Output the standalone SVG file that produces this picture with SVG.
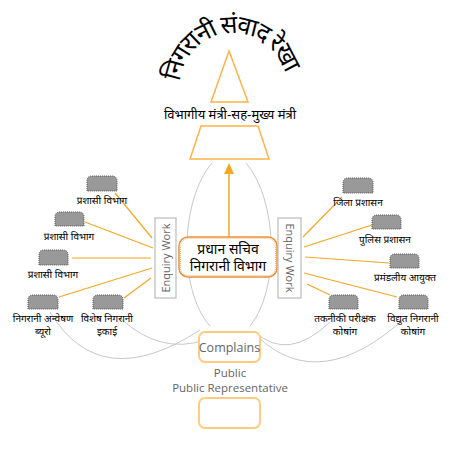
<svg xmlns="http://www.w3.org/2000/svg" xmlns:xlink="http://www.w3.org/1999/xlink" width="450" height="450" viewBox="0 0 450 450">
<style>
.dev{font-family:"Noto Sans Devanagari","Noto Sans","Lohit Devanagari","FreeSans",sans-serif;fill:#000}
.lbl{font-size:10px;text-anchor:middle}
.eng{font-family:"Open Sans","Noto Sans","DejaVu Sans",sans-serif;fill:#666}
.node{fill:#999;stroke:#555;stroke-width:1;stroke-dasharray:1 1}
.ol{stroke:#F5A623;stroke-width:1.2;fill:none}
.gc{stroke:#c8c8c8;stroke-width:1;fill:none}
.ebox{fill:#fff;stroke:#bbb;stroke-width:1.2}
.pbox{fill:#fff;stroke:#FFCC80;stroke-width:2}
</style>
<defs>
<path id="arc" d="M 180,86 A 53,53 0 0,1 286,86"/>
</defs>
<rect width="450" height="450" fill="#fff"/>

<g id="title">
<text class="dev" font-size="25"><textPath xlink:href="#arc" href="#arc" startOffset="2" textLength="150" lengthAdjust="spacing">निगरानी संवाद  रेखा</textPath></text>
</g>

<g id="connectors">
<path class="gc" d="M 212,163 C 180,200 178,290 210,326"/>
<path class="gc" d="M 246,163 C 278,200 280,290 250,326"/>
<path class="gc" d="M 50,312 Q 100,395 200,330"/>
<path class="gc" d="M 120,318 Q 160,355 205,340"/>
<path class="gc" d="M 330,322 Q 288,362 255,332"/>
<path class="gc" d="M 405,318 Q 320,395 258,337"/>
<line x1="229" y1="237" x2="229" y2="172" stroke="#F5A623" stroke-width="1.5"/>
<polygon points="229,163 224,174 234,174" fill="#F5A623"/>
<line class="ol" x1="115" y1="193" x2="152" y2="238"/>
<line class="ol" x1="85" y1="222" x2="153" y2="248"/>
<line class="ol" x1="72" y1="258" x2="151" y2="258"/>
<line class="ol" x1="59" y1="297" x2="152" y2="268"/>
<line class="ol" x1="124" y1="298" x2="151" y2="278"/>
<line class="ol" x1="303" y1="237" x2="342" y2="197"/>
<line class="ol" x1="304" y1="247" x2="372" y2="225"/>
<line class="ol" x1="305" y1="257" x2="389" y2="263"/>
<line class="ol" x1="304" y1="273" x2="397" y2="297"/>
<line class="ol" x1="307" y1="284" x2="330" y2="295"/>
</g>

<g id="triangle">
<polygon points="229,51 211,102 248,102" fill="#fff" stroke="#FFB347" stroke-width="1.5"/>
<text class="dev" x="230" y="119" font-size="13" text-anchor="middle">विभागीय मंत्री-सह-मुख्य मंत्री</text>
</g>

<g id="trapezoid">
<polygon points="201,126 258,126 269,159 190,159" fill="#fff" stroke="#FFB347" stroke-width="1.5"/>
</g>

<g id="center">
<rect x="179" y="237" width="98" height="40" rx="9" fill="#fff" stroke="#E8913A" stroke-width="1.5"/>
<rect x="180.5" y="238.5" width="95" height="37" rx="8" fill="none" stroke="#F5B97A" stroke-width="1" stroke-dasharray="1 1"/>
<text class="dev" x="228" y="254" font-size="14" text-anchor="middle">प्रधान सचिव</text>
<text class="dev" x="228" y="271" font-size="14" text-anchor="middle">निगरानी विभाग</text>
</g>

<g id="enquiry-left">
<rect class="ebox" x="155" y="218" width="21" height="80"/>
<text class="eng" font-size="11" text-anchor="middle" fill="#888" transform="translate(169.5,258) rotate(-90)">Enquiry Work</text>
</g>
<g id="enquiry-right">
<rect class="ebox" x="278" y="218" width="23" height="80"/>
<text class="eng" font-size="11" text-anchor="middle" fill="#888" transform="translate(285.5,258) rotate(90)">Enquiry Work</text>
</g>

<g id="n-l1"><path class="node" d="M87,191 V181 Q87,176 92,176 H112 Q117,176 117,181 V191 Z"/><text class="dev lbl" x="102" y="204">प्रशासी विभाग</text></g>
<g id="n-l2"><path class="node" d="M55,226 V217 Q55,212 60,212 H79 Q84,212 84,217 V226 Z"/><text class="dev lbl" x="69" y="240">प्रशासी विभाग</text></g>
<g id="n-l3"><path class="node" d="M39,265 V255 Q39,250 44,250 H63 Q68,250 68,255 V265 Z"/><text class="dev lbl" x="53" y="278">प्रशासी विभाग</text></g>
<g id="n-l4"><path class="node" d="M28,309 V300 Q28,295 33,295 H53 Q58,295 58,300 V309 Z"/><text class="dev lbl" x="43" y="322">निगरानी अन्वेषण</text><text class="dev lbl" x="43" y="335">ब्यूरो</text></g>
<g id="n-l5"><path class="node" d="M93,309 V300 Q93,295 98,295 H118 Q123,295 123,300 V309 Z"/><text class="dev lbl" x="107" y="322">विशेष निगरानी</text><text class="dev lbl" x="107" y="335">इकाई</text></g>

<g id="n-r1"><path class="node" d="M343,193 V183 Q343,178 348,178 H368 Q373,178 373,183 V193 Z"/><text class="dev lbl" x="358" y="206">जिला प्रशासन</text></g>
<g id="n-r2"><path class="node" d="M372,229 V220 Q372,215 377,215 H396 Q401,215 401,220 V229 Z"/><text class="dev lbl" x="385" y="243">पुलिस प्रशासन</text></g>
<g id="n-r3"><path class="node" d="M390,268 V259 Q390,254 395,254 H414 Q419,254 419,259 V268 Z"/><text class="dev lbl" x="405" y="281">प्रमंडलीय आयुक्त</text></g>
<g id="n-r4"><path class="node" d="M329,309 V300 Q329,295 334,295 H353 Q358,295 358,300 V309 Z"/><text class="dev lbl" x="345" y="322">तकनीकी परीक्षक</text><text class="dev lbl" x="345" y="335">कोषांग</text></g>
<g id="n-r5"><path class="node" d="M399,309 V300 Q399,295 404,295 H423 Q428,295 428,300 V309 Z"/><text class="dev lbl" x="413" y="322">विद्युत निगरानी</text><text class="dev lbl" x="413" y="335">कोषांग</text></g>

<g id="complains">
<rect class="pbox" x="199" y="332" width="61" height="30" rx="6"/>
<text class="eng" x="229.5" y="352" font-size="12.5" text-anchor="middle" fill="#555">Complains</text>
</g>
<g id="public">
<text class="eng" x="230" y="377" font-size="11.5" text-anchor="middle">Public</text>
<text class="eng" x="230" y="392" font-size="11.5" text-anchor="middle">Public Representative</text>
<rect class="pbox" x="199" y="398" width="61" height="30" rx="6"/>
</g>
</svg>
